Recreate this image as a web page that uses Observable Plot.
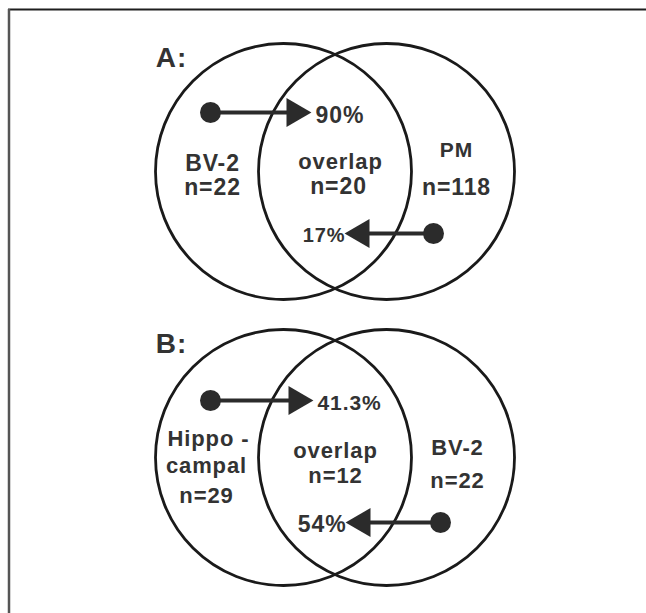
<!DOCTYPE html>
<html><head><meta charset="utf-8">
<script src="https://cdn.jsdelivr.net/npm/d3@7"></script>
<script src="https://cdn.jsdelivr.net/npm/@observablehq/plot@0.6"></script>
<style>
body{margin:0;background:#fff}
#chart svg text{letter-spacing:0.9px}
</style>
</head><body><div id="chart"></div>
<script>
// ---- data ----
const panels = ["A:", "B:"];
const leftNames = [["BV-2"], ["Hippo -", "campal"]];
const leftN = [22, 29];
const rightNames = [["PM"], ["BV-2"]];
const rightN = [118, 22];
const overlapN = [20, 12];
const leftToOverlap = ["90%", "41.3%"];
const rightToOverlap = ["17%", "54%"];

// ---- layout (scale units) ----
const W = 646, H = 613;
const panelCY = [171, 457];
const leftCX = 283, rightCX = 386, R = 128;
const ink = "#2b2b2b", txt = "#333";

const circles = [], labels = [], starts = [], heads = [], links = [], pcts = [];
panels.forEach((p, i) => {
  const cy = panelCY[i];
  circles.push({x: leftCX, y: cy, r: R}, {x: rightCX, y: cy, r: R});
  labels.push({x: 171, y: cy - 113, t: p, s: 28});
  if (i === 0) {
    labels.push({x: 212, y: cy - 8, t: leftNames[i][0], s: 23});
    labels.push({x: 212, y: cy + 16, t: "n=" + leftN[i], s: 23});
    labels.push({x: 340, y: cy - 10, t: "overlap", s: 22});
    labels.push({x: 338, y: cy + 15, t: "n=" + overlapN[i], s: 23});
    labels.push({x: 456, y: cy - 21, t: rightNames[i][0], s: 21});
    labels.push({x: 456, y: cy + 16, t: "n=" + rightN[i], s: 23});
  } else {
    labels.push({x: 208, y: cy - 19, t: leftNames[i][0], s: 22});
    labels.push({x: 206, y: cy + 8, t: leftNames[i][1], s: 22});
    labels.push({x: 206, y: cy + 38, t: "n=" + leftN[i], s: 22});
    labels.push({x: 335, y: cy - 7, t: "overlap", s: 22});
    labels.push({x: 335, y: cy + 18, t: "n=" + overlapN[i], s: 22});
    labels.push({x: 457, y: cy - 10, t: rightNames[i][0], s: 22});
    labels.push({x: 457, y: cy + 23, t: "n=" + rightN[i], s: 22});
  }
  const topY = cy - 59 + (i ? 2 : 0), botY = cy + 62 + (i ? 3 : 0);
  const topTip = i ? 313 : 311, botTip = i ? 345 : 344;
  const botStart = i ? 440 : 433;
  starts.push({x: 210, y: topY}, {x: botStart, y: botY});
  links.push({x1: 210, y1: topY, x2: topTip - 20, y2: topY}, {x1: botStart, y1: botY, x2: botTip + 20, y2: botY});
  heads.push({x: topTip - 16.7, y: topY, rot: 90}, {x: botTip + 16.7, y: botY, rot: -90});
  pcts.push({x: topTip + 4, y: topY + 3, t: leftToOverlap[i], a: "start", s: i ? 21 : 23});
  pcts.push({x: botTip + 1, y: botY + 2, t: rightToOverlap[i], a: "end", s: i ? 23 : 20});
});

const chart = Plot.plot({
  width: W, height: H, margin: 0,
  x: {domain: [0, W], range: [0, W], axis: null},
  y: {domain: [0, H], range: [0, H], axis: null},
  r: {type: "identity"},
  style: {fontFamily: "'Liberation Sans', Arial, sans-serif", background: "#fff"},
  marks: [
    Plot.ruleY([9], {x1: 8, x2: W, stroke: "#1e1e1e", strokeWidth: 2}),
    Plot.ruleX([8.5], {y1: 9, y2: H, stroke: "#555", strokeWidth: 2.5}),
    Plot.dot(circles, {x: "x", y: "y", r: "r", stroke: "#1a1a1a", strokeWidth: 2.8, fill: "none"}),
    Plot.link(links, {x1: "x1", y1: "y1", x2: "x2", y2: "y2", stroke: ink, strokeWidth: 4.2}),
    Plot.dot(starts, {x: "x", y: "y", r: 10.5, fill: ink, stroke: "none"}),
    Plot.dot(heads, {x: "x", y: "y", r: 10.7, symbol: "triangle", rotate: "rot", fill: ink, stroke: "none"}),
    Plot.text(labels, {x: "x", y: "y", text: "t", fontSize: "s", fontWeight: "bold", fill: txt}),
    Plot.text(pcts, {x: "x", y: "y", text: "t", fontSize: "s", textAnchor: "start", fontWeight: "bold", fill: txt, filter: d => d.a === "start"}),
    Plot.text(pcts, {x: "x", y: "y", text: "t", fontSize: "s", textAnchor: "end", fontWeight: "bold", fill: txt, filter: d => d.a === "end"})
  ]
});
document.getElementById("chart").append(chart);
</script>
</body></html>
